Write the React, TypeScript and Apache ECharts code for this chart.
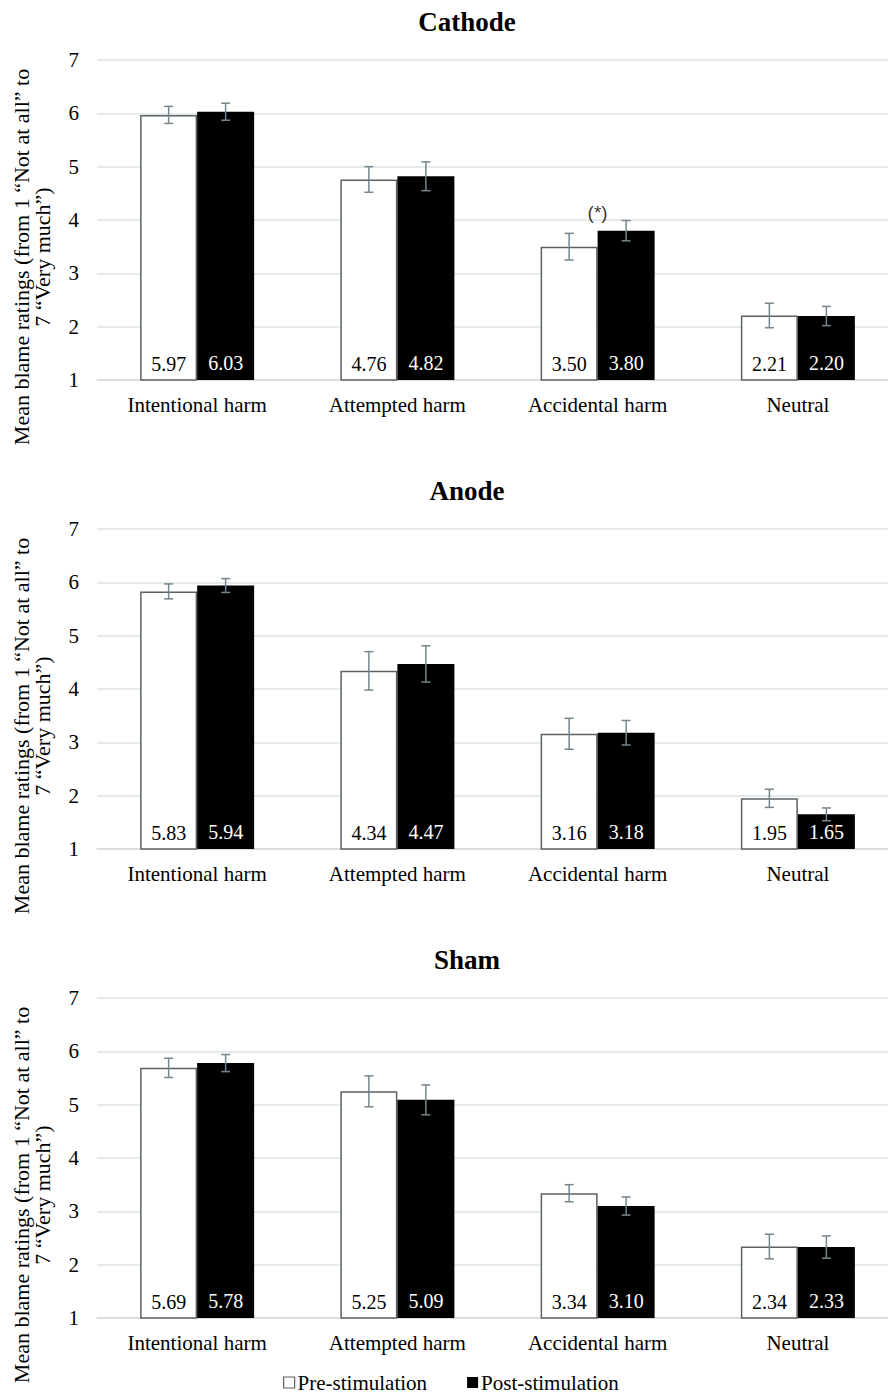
import React, { useEffect, useRef } from 'react';
import * as echarts from 'echarts';

const categories = ['Intentional harm', 'Attempted harm', 'Accidental harm', 'Neutral'];
const panelTitles = ['Cathode', 'Anode', 'Sham'];
const seriesNames = ['Pre-stimulation', 'Post-stimulation'];
const yAxisName = 'Mean blame ratings (from 1 \u201CNot at all\u201D to\n7 \u201CVery much\u201D)';

const cathodePre = [5.97, 4.76, 3.5, 2.21];
const cathodePost = [6.03, 4.82, 3.8, 2.2];
const cathodePreErr = [0.16, 0.24, 0.25, 0.23];
const cathodePostErr = [0.16, 0.27, 0.19, 0.18];

const anodePre = [5.83, 4.34, 3.16, 1.95];
const anodePost = [5.94, 4.47, 3.18, 1.65];
const anodePreErr = [0.14, 0.36, 0.29, 0.17];
const anodePostErr = [0.13, 0.34, 0.23, 0.12];

const shamPre = [5.69, 5.25, 3.34, 2.34];
const shamPost = [5.78, 5.09, 3.1, 2.33];
const shamPreErr = [0.18, 0.29, 0.16, 0.23];
const shamPostErr = [0.16, 0.28, 0.17, 0.21];

const sigCategoryIndex = 2;
const sigValue = 4.15;
const sigLabel = '(*)';

const panels = [
  { pre: cathodePre, post: cathodePost, preErr: cathodePreErr, postErr: cathodePostErr },
  { pre: anodePre, post: anodePost, preErr: anodePreErr, postErr: anodePostErr },
  { pre: shamPre, post: shamPost, preErr: shamPreErr, postErr: shamPostErr },
];

const SERIF = '"Liberation Serif", "Times New Roman", serif';
const GRID_TOPS = [60, 529, 998];
const GRID_H = 320;
const GRID_LEFT = 97;
const GRID_W = 801;
const BAR_W = 57;
const ERR_COLOR = '#76858c';

function errorSeries(panel: number, vals: number[], errs: number[], side: number) {
  return {
    type: 'custom',
    xAxisIndex: panel,
    yAxisIndex: panel,
    z: 5,
    silent: true,
    data: vals.map((v, i) => [i, v, errs[i]]),
    encode: { x: 0, y: 1 },
    renderItem: (params: any, api: any) => {
      const idx = api.value(0);
      const v = api.value(1);
      const e = api.value(2);
      const top = api.coord([idx, v + e]);
      const bot = api.coord([idx, v - e]);
      const x = top[0] + side * BAR_W / 2;
      const cap = 4.5;
      const style = { stroke: ERR_COLOR, lineWidth: 1.5 };
      return {
        type: 'group',
        children: [
          { type: 'line', shape: { x1: x, y1: top[1], x2: x, y2: bot[1] }, style },
          { type: 'line', shape: { x1: x - cap, y1: top[1], x2: x + cap, y2: top[1] }, style },
          { type: 'line', shape: { x1: x - cap, y1: bot[1], x2: x + cap, y2: bot[1] }, style },
        ],
      };
    },
  };
}

export default function App() {
  const ref = useRef<HTMLDivElement>(null);
  useEffect(() => {
    if (!ref.current) return;
    const chart = echarts.init(ref.current, undefined, { renderer: 'svg' });
    const grids: any[] = [];
    const xAxes: any[] = [];
    const yAxes: any[] = [];
    const series: any[] = [];
    const graphics: any[] = [];
    panels.forEach((p, k) => {
      grids.push({ left: GRID_LEFT, top: GRID_TOPS[k], width: GRID_W, height: GRID_H });
      xAxes.push({
        type: 'category',
        gridIndex: k,
        data: categories,
        axisTick: { show: false },
        axisLine: { show: true, lineStyle: { color: '#d9d9d9', width: 1.5 } },
        axisLabel: { color: '#000', fontFamily: SERIF, fontSize: 21, margin: 14 },
      });
      yAxes.push({
        type: 'value',
        gridIndex: k,
        min: 1,
        max: 7,
        interval: 1,
        axisLine: { show: false },
        axisTick: { show: false },
        splitLine: { lineStyle: { color: '#dde3e6', width: 1.5 } },
        axisLabel: { color: '#000', fontFamily: SERIF, fontSize: 21, margin: 18 },
      });
      series.push({
        name: seriesNames[0],
        type: 'bar',
        xAxisIndex: k,
        yAxisIndex: k,
        barWidth: BAR_W,
        barGap: '0%',
        data: p.pre,
        itemStyle: { color: '#ffffff', borderColor: '#5a6266', borderWidth: 1.5 },
        label: {
          show: true,
          position: 'insideBottom',
          distance: 7,
          color: '#000',
          fontFamily: SERIF,
          fontSize: 20,
          formatter: (d: any) => Number(d.value).toFixed(2),
        },
      });
      series.push({
        name: seriesNames[1],
        type: 'bar',
        xAxisIndex: k,
        yAxisIndex: k,
        barWidth: BAR_W,
        barGap: '0%',
        data: p.post,
        itemStyle: { color: '#000000', borderColor: '#000000', borderWidth: 0 },
        label: {
          show: true,
          position: 'insideBottom',
          distance: 7,
          color: '#ffffff',
          fontFamily: SERIF,
          fontSize: 20,
          formatter: (d: any) => Number(d.value).toFixed(2),
        },
      });
      series.push(errorSeries(k, p.pre, p.preErr, -1));
      series.push(errorSeries(k, p.post, p.postErr, 1));
      graphics.push({
        type: 'text',
        x: 467,
        y: GRID_TOPS[k] - 38,
        style: {
          text: panelTitles[k],
          fontFamily: SERIF,
          fontWeight: 'bold',
          fontSize: 27,
          fill: '#000',
          align: 'center',
          verticalAlign: 'middle',
        },
      });
      graphics.push({
        type: 'text',
        x: 32,
        y: GRID_TOPS[k] + 197,
        rotation: Math.PI / 2,
        style: {
          text: yAxisName,
          fontFamily: SERIF,
          fontSize: 22,
          lineHeight: 21,
          fill: '#000',
          align: 'center',
          verticalAlign: 'middle',
        },
      });
    });
    series.push({
      type: 'scatter',
      xAxisIndex: 0,
      yAxisIndex: 0,
      silent: true,
      symbolSize: 1,
      itemStyle: { color: 'rgba(0,0,0,0)' },
      data: [[sigCategoryIndex, sigValue]],
      label: {
        show: true,
        position: 'inside',
        formatter: sigLabel,
        color: '#000',
        fontFamily: '"Liberation Sans", Arial, sans-serif',
        fontSize: 19,
      },
    });
    chart.setOption({
      animation: false,
      backgroundColor: '#ffffff',
      grid: grids,
      xAxis: xAxes,
      yAxis: yAxes,
      series,
      graphic: graphics,
      legend: {
        data: [
          { name: seriesNames[0], itemStyle: { color: '#fff', borderColor: '#5a6266', borderWidth: 1.2 } },
          { name: seriesNames[1] },
        ],
        left: 283,
        top: 1372,
        padding: 0,
        icon: 'rect',
        itemWidth: 11,
        itemHeight: 11,
        itemGap: 40,
        textStyle: { color: '#000', fontFamily: SERIF, fontSize: 21, padding: [0, 0, 0, -2] },
      },
    });
    return () => chart.dispose();
  }, []);
  return (
    <div
      ref={ref}
      style={{ position: 'fixed', left: 0, top: 0, width: 900, height: 1398, background: '#fff' }}
    />
  );
}
